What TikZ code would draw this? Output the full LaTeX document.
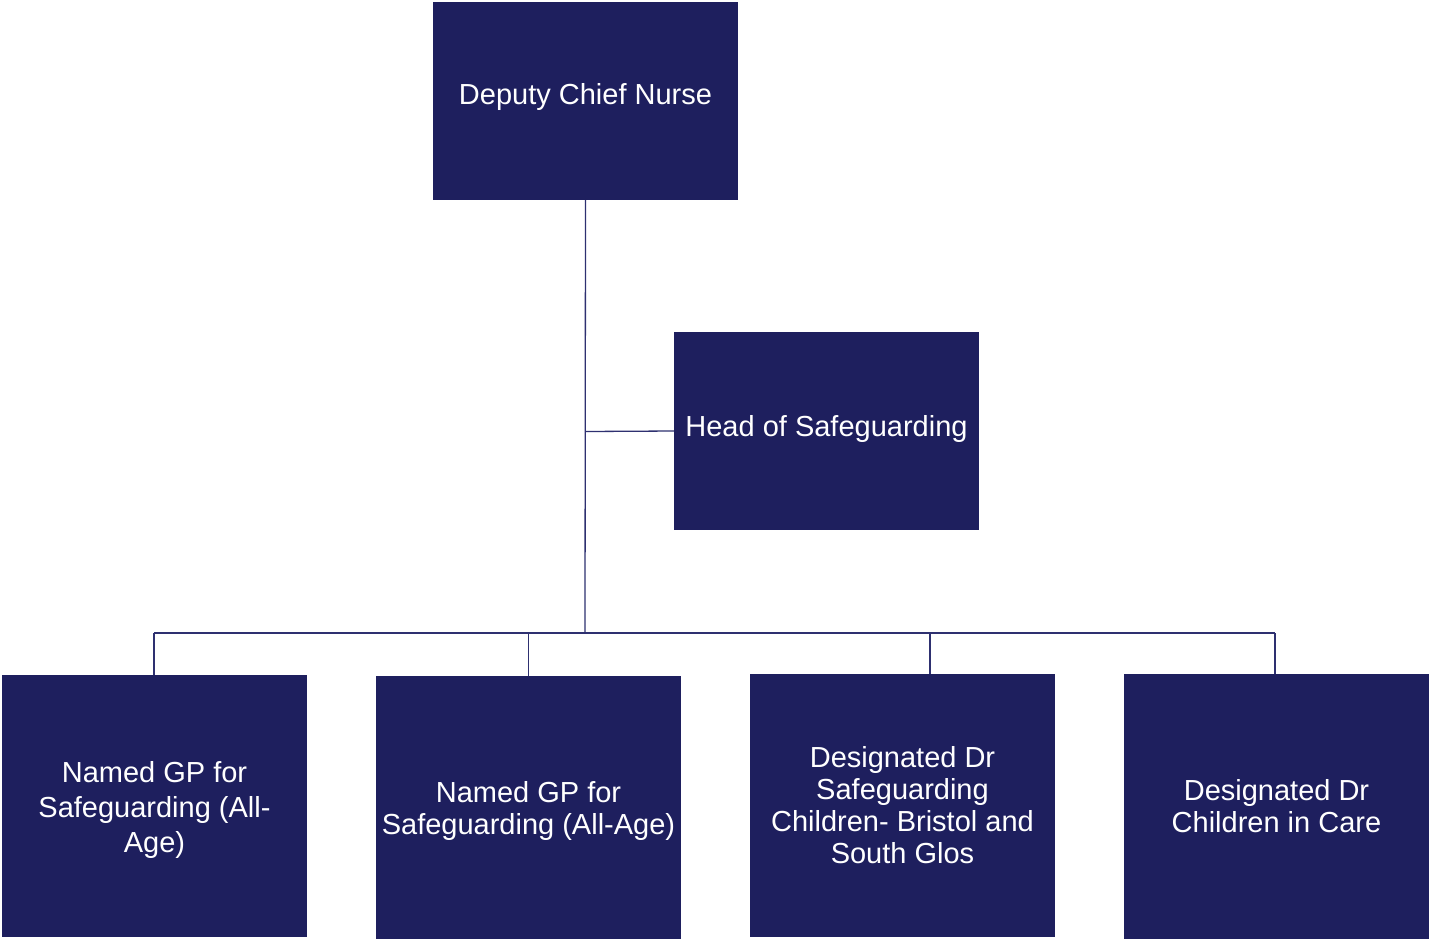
\documentclass[tikz,border=0pt]{standalone}
\usepackage{fontspec}
\setmainfont{Liberation Sans}
\usetikzlibrary{calc}
\definecolor{navy}{HTML}{1E1F5E}
\definecolor{linec}{HTML}{2E3070}
\begin{document}
\begin{tikzpicture}[x=1pt,y=-1pt,
  box/.style={fill=navy,draw=none,minimum width=305pt,inner sep=0pt,
    text=white,align=center,font=\fontsize{29}{32}\selectfont},
  txt/.style={text=white,align=center,inner sep=0pt,font=\fontsize{29}{32}\selectfont},
  conn/.style={draw=linec,line width=1.3pt}]
\useasboundingbox (0,0) rectangle (1430,940);
\fill[white] (0,0) rectangle (1430,940);
% top boxes
\node[box,minimum height=198pt] (dcn) at (585.5,101) {};
\node[txt] (dcnT) at (585.5,97) {Deputy Chief Nurse};
\node[box,minimum height=198pt] (hos) at (826.5,431) {};
\node[txt] (hosT) at (826.5,429) {Head of Safeguarding};
% bottom boxes
\node[box,minimum height=262pt] (b1) at (154.5,806) {};
\node[txt,font=\fontsize{29}{35}\selectfont] (b1T) at (154.5,810) {Named GP for\\Safeguarding (All-\\Age)};
\node[box,minimum height=263pt] (b2) at (528.5,807.5) {};
\node[txt] (b2T) at (528.5,810.5) {Named GP for\\Safeguarding (All-Age)};
\node[box,minimum height=263pt] (b3) at (902.5,805.5) {Designated Dr\\Safeguarding\\Children- Bristol and\\South Glos};
\node[box,minimum height=265pt] (b4) at (1276.5,806.5) {Designated Dr\\Children in Care};
% connectors
\coordinate (bus) at (585,633);
\coordinate (branch) at (586,431.5);
\coordinate (busL) at (154,633);
\coordinate (busR) at (1275,633);
\draw[conn] (dcn.south) -- (bus);
\draw[conn] (branch) -- (hos.west);
\draw[conn] (busL) -- (busR);
\draw[conn] (busL) -- (b1.north -| busL);
\draw[conn] (b2.north |- bus) -- (b2.north);
\draw[conn] (930,633) -- (930,674);
\draw[conn] (busR) -- (b4.north -| busR);
\end{tikzpicture}
\end{document}
